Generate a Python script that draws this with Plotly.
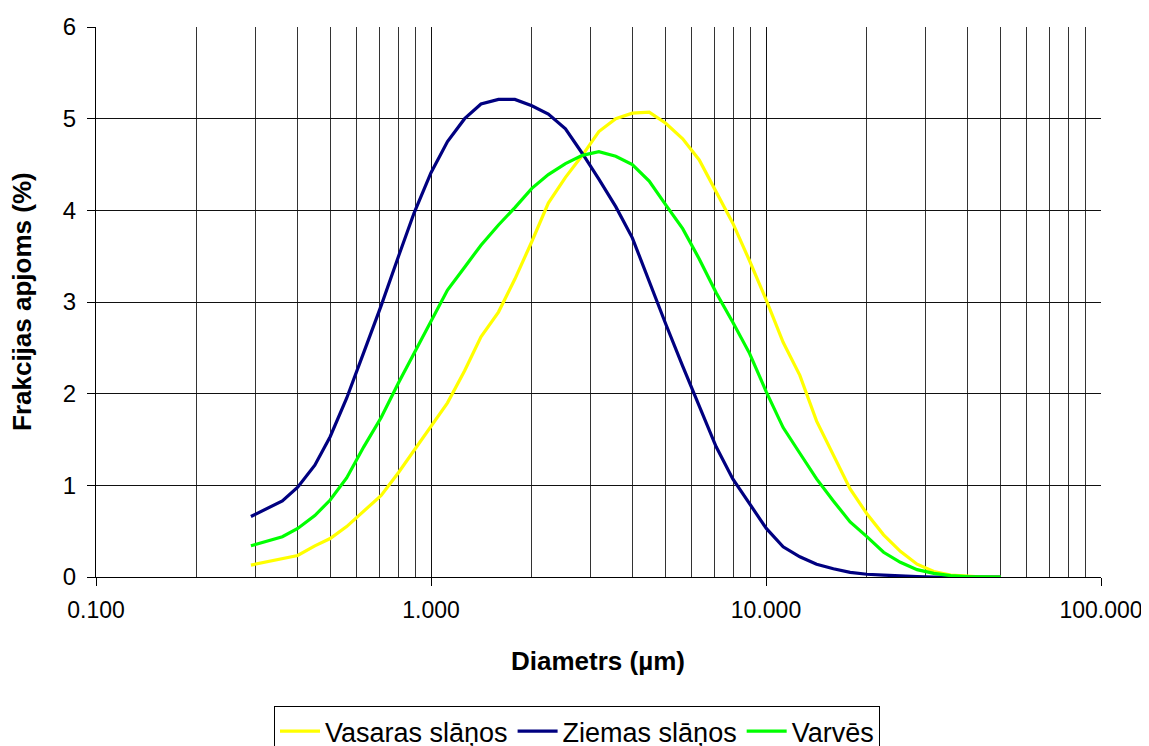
import plotly.graph_objects as go

# Particle diameter classes (µm)
diameter = [0.29, 0.33, 0.36, 0.40, 0.45, 0.50, 0.56, 0.63, 0.71, 0.80, 0.89,
            1.00, 1.12, 1.26, 1.41, 1.59, 1.78, 2.00, 2.24, 2.52, 2.83, 3.17,
            3.56, 3.99, 4.48, 5.02, 5.64, 6.32, 7.10, 7.96, 8.93, 10.02, 11.25,
            12.62, 14.16, 15.89, 17.83, 20.00, 22.44, 25.18, 28.25, 31.70,
            35.57, 39.91, 44.77, 50.24]

vasaras = [0.13, 0.17, 0.20, 0.235, 0.34, 0.42, 0.55, 0.72, 0.89, 1.14, 1.38,
           1.65, 1.90, 2.25, 2.62, 2.89, 3.25, 3.66, 4.08, 4.36, 4.60, 4.86,
           5.00, 5.06, 5.07, 4.95, 4.78, 4.55, 4.21, 3.86, 3.45, 3.02, 2.56,
           2.20, 1.70, 1.33, 0.96, 0.69, 0.46, 0.28, 0.14, 0.06,
           0.02, 0.01, 0.0, 0.0]

ziemas = [0.66, 0.76, 0.83, 0.98, 1.22, 1.53, 1.95, 2.45, 2.96, 3.50, 3.97,
          4.41, 4.75, 5.00, 5.16, 5.21, 5.21, 5.14, 5.05, 4.89, 4.62, 4.34,
          4.04, 3.70, 3.22, 2.76, 2.30, 1.87, 1.42, 1.07, 0.80, 0.53, 0.33,
          0.22, 0.14, 0.09, 0.05, 0.03, 0.02, 0.01, 0.005, 0.0,
          0.0, 0.0, 0.0, 0.0]

varves = [0.34, 0.40, 0.44, 0.53, 0.67, 0.84, 1.08, 1.42, 1.74, 2.12, 2.44,
          2.78, 3.13, 3.38, 3.62, 3.84, 4.03, 4.24, 4.39, 4.51, 4.60, 4.64,
          4.59, 4.50, 4.32, 4.06, 3.80, 3.47, 3.10, 2.78, 2.44, 2.02, 1.63,
          1.35, 1.07, 0.83, 0.60, 0.44, 0.27, 0.16, 0.08, 0.04,
          0.015, 0.005, 0.0, 0.0]

x_tickvals = [0.1, 1, 10, 100]
x_ticktext = ["0.100", "1.000", "10.000", "100.000"]
x_minor = [m * d for d in (0.1, 1, 10) for m in range(2, 10)]
y_tickvals = [0, 1, 2, 3, 4, 5, 6]

FONT = "Liberation Sans, Arial, sans-serif"

# the page body adds an 8 px offset; positions below are target screen pixels
OFF = 8
W, H = 1149, 746
PL, PR, PT, PB = 96, 1101, 27, 577  # plot area in screen px
ML, MT = PL - OFF, PT - OFF
MR, MB = W - (PR - OFF), H - (PB - OFF)
pw, ph = W - ML - MR, H - MT - MB


def px_to_paper_x(px):
    return (px - PL) / pw


def px_to_paper_y(py):
    return (PB - py) / ph


fig = go.Figure()
fig.add_trace(go.Scatter(x=diameter, y=vasaras, mode="lines", name="Vasaras slāņos",
                         line=dict(color="#FFFF00", width=3.2)))
fig.add_trace(go.Scatter(x=diameter, y=ziemas, mode="lines", name="Ziemas slāņos",
                         line=dict(color="#000080", width=3.2)))
fig.add_trace(go.Scatter(x=diameter, y=varves, mode="lines", name="Varvēs",
                         line=dict(color="#00FF00", width=3.2)))

fig.update_layout(
    width=W, height=H,
    margin=dict(l=ML, r=MR, t=MT, b=MB, autoexpand=False),
    paper_bgcolor="white", plot_bgcolor="white",
    font=dict(family=FONT, size=23, color="black"),
    showlegend=True,
    legend=dict(orientation="h", x=px_to_paper_x(577), xanchor="center",
                y=px_to_paper_y(706), yanchor="top",
                bordercolor="black", borderwidth=1, bgcolor="white",
                font=dict(family=FONT, size=27, color="black"),
                itemwidth=40, tracegroupgap=0),
    annotations=[
        dict(text="<b>Diametrs (µm)</b>", x=px_to_paper_x(598), y=px_to_paper_y(661),
             xref="paper", yref="paper", xanchor="center", yanchor="middle",
             showarrow=False, font=dict(family=FONT, size=26)),
        dict(text="<b>Frakcijas apjoms (%)</b>", x=px_to_paper_x(22), y=px_to_paper_y(302),
             xref="paper", yref="paper", xanchor="center", yanchor="middle",
             textangle=-90, showarrow=False, font=dict(family=FONT, size=26)),
    ],
)

fig.update_xaxes(
    type="log", range=[-1, 2], automargin=False,
    tickmode="array", tickvals=x_tickvals, ticktext=x_ticktext,
    ticks="outside", ticklen=8, tickcolor="black", tickwidth=1,
    ticklabelstandoff=4,
    showgrid=True, gridcolor="#111111", gridwidth=1,
    minor=dict(tickmode="array", tickvals=x_minor, showgrid=True,
               gridcolor="#333333", gridwidth=1, ticks=""),
    showline=True, linecolor="black", linewidth=1,
    zeroline=False, tickfont=dict(family=FONT, size=23),
)
fig.update_yaxes(
    range=[0, 6], tickmode="array", tickvals=y_tickvals, automargin=False,
    ticks="outside", ticklen=8, tickcolor="black", tickwidth=1,
    ticklabelstandoff=6,
    showgrid=True, gridcolor="#111111", gridwidth=1,
    showline=True, linecolor="black", linewidth=1,
    zeroline=False, tickfont=dict(family=FONT, size=24),
)

fig.write_html("out.html")
